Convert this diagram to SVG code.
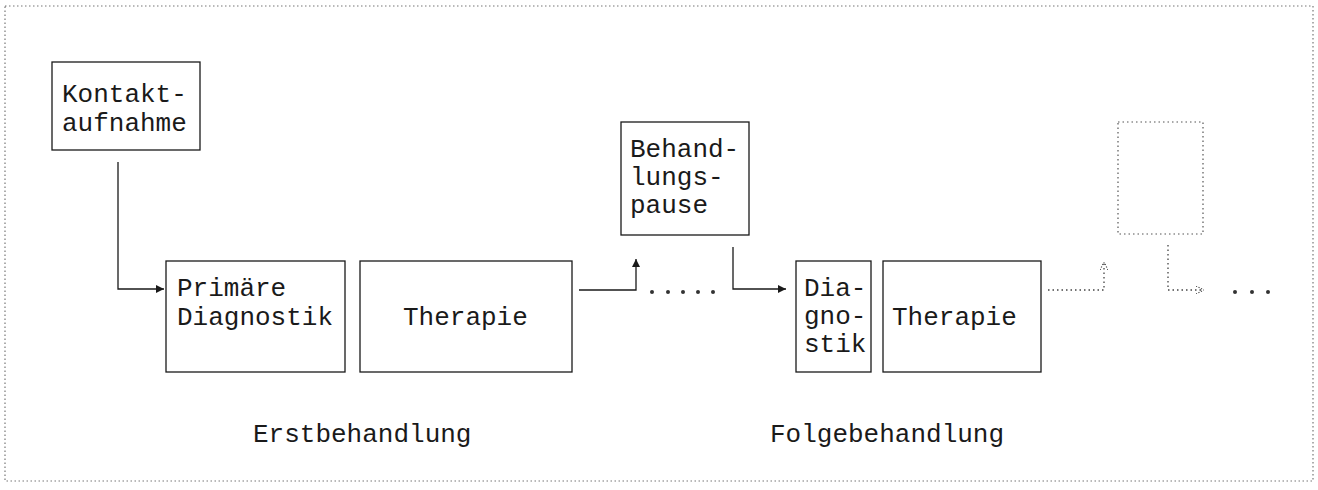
<svg xmlns="http://www.w3.org/2000/svg" width="1318" height="490" viewBox="0 0 1318 490">
<style>
.box{fill:#fff;stroke:#1a1a1a;stroke-width:1.3}
.dbox{fill:none;stroke:#555;stroke-width:1.2;stroke-dasharray:1.5 3}
.t{font-family:"Liberation Mono","Courier New",monospace;font-size:26px;fill:#1a1a1a}
.ln{fill:none;stroke:#1a1a1a;stroke-width:1.3}
.dl{fill:none;stroke:#444;stroke-width:1.3;stroke-dasharray:1.5 3}
.frame{fill:none;stroke:#777;stroke-width:1.2;stroke-dasharray:1.5 2.5}
.dot{fill:#333}
</style>
<defs>
<marker id="ah" viewBox="0 0 10 10" refX="10" refY="5" markerWidth="8" markerHeight="8" markerUnits="userSpaceOnUse" orient="auto">
<path d="M0,0 L10,5 L0,10 Z" fill="#1a1a1a"/>
</marker>
<marker id="ahd" viewBox="0 0 10 10" refX="10" refY="5" markerWidth="8" markerHeight="8" markerUnits="userSpaceOnUse" orient="auto">
<path d="M0,0 L10,5 L0,10" fill="none" stroke="#444" stroke-width="1.5" stroke-dasharray="1.5 2"/>
</marker>
</defs>
<rect class="frame" x="5" y="6" width="1308" height="475"/>
<g id="kontakt">
<rect class="box" x="52" y="62" width="148" height="88"/>
<text class="t" x="62" y="102">Kontakt-</text>
<text class="t" x="62" y="131">aufnahme</text>
</g>
<g id="primaere">
<rect class="box" x="166" y="261" width="179" height="111"/>
<text class="t" x="177" y="296">Primäre</text>
<text class="t" x="177" y="325">Diagnostik</text>
</g>
<g id="therapie1">
<rect class="box" x="360" y="261" width="212" height="111"/>
<text class="t" x="403" y="325">Therapie</text>
</g>
<g id="pause">
<rect class="box" x="621" y="122" width="128" height="113"/>
<text class="t" x="630" y="157">Behand-</text>
<text class="t" x="630" y="185">lungs-</text>
<text class="t" x="630" y="213">pause</text>
</g>
<g id="diagnostik2">
<rect class="box" x="796" y="261" width="75" height="111"/>
<text class="t" x="804" y="296">Dia-</text>
<text class="t" x="804" y="324">gno-</text>
<text class="t" x="804" y="352">stik</text>
</g>
<g id="therapie2">
<rect class="box" x="883" y="261" width="158" height="111"/>
<text class="t" x="892" y="325">Therapie</text>
</g>
<g id="leer">
<rect class="dbox" x="1118" y="122" width="85" height="112"/>
</g>
<g id="labels">
<text class="t" x="253" y="442">Erstbehandlung</text>
<text class="t" x="770" y="442">Folgebehandlung</text>
</g>
<g id="connectors">
<path class="ln" d="M118,162 V289 H164" marker-end="url(#ah)"/>
<path class="ln" d="M579,290 H636 V259" marker-end="url(#ah)"/>
<path class="ln" d="M733,247 V289 H786" marker-end="url(#ah)"/>
<path class="dl" d="M1048,290 H1104 V262" marker-end="url(#ahd)"/>
<path class="dl" d="M1168,245 V290 H1204" marker-end="url(#ahd)"/>
<g class="dot">
<circle cx="652" cy="292" r="2"/><circle cx="668" cy="292" r="2"/><circle cx="683" cy="292" r="2"/><circle cx="698" cy="292" r="2"/><circle cx="713" cy="292" r="2"/>
<circle cx="1235" cy="292" r="2"/><circle cx="1252" cy="292" r="2"/><circle cx="1268" cy="292" r="2"/>
</g>
</g>
</svg>
